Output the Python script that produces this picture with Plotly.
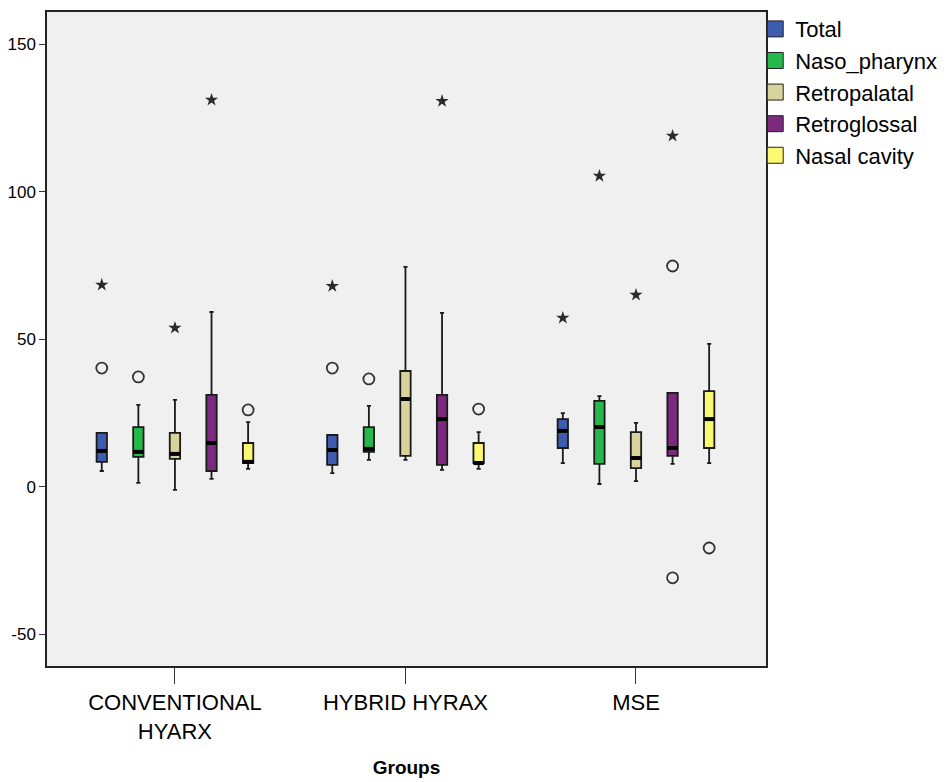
import plotly.graph_objects as go

groups = ["CONVENTIONAL<br>HYARX", "HYBRID HYRAX", "MSE"]
series = ["Total", "Naso_pharynx", "Retropalatal", "Retroglossal", "Nasal cavity"]
colors = ["#3d5cb0", "#27b84b", "#d8d29b", "#7b2a7e", "#fbf871"]
y_ticks = [-50, 0, 50, 100, 150]
y_tick_text = ["-50", "0", "50", "100", "150"]

# per series, per group
lower = {
    "Total": [5.4, 4.7, 8.1],
    "Naso_pharynx": [1.4, 9.2, 1.0],
    "Retropalatal": [-1.0, 9.2, 2.0],
    "Retroglossal": [2.7, 5.8, 7.8],
    "Nasal cavity": [6.1, 6.1, 8.1],
}
q1 = {
    "Total": [8.5, 7.5, 13.2],
    "Naso_pharynx": [10.2, 11.9, 7.8],
    "Retropalatal": [9.5, 10.5, 6.4],
    "Retroglossal": [5.4, 7.5, 10.5],
    "Nasal cavity": [8.1, 8.1, 13.2],
}
median = {
    "Total": [12.2, 12.5, 19.0],
    "Naso_pharynx": [11.9, 12.9, 20.3],
    "Retropalatal": [11.2, 29.8, 9.8],
    "Retroglossal": [14.9, 23.0, 13.2],
    "Nasal cavity": [8.5, 8.1, 23.0],
}
q3 = {
    "Total": [18.3, 17.6, 23.0],
    "Naso_pharynx": [20.3, 20.3, 29.2],
    "Retropalatal": [18.3, 39.3, 18.6],
    "Retroglossal": [31.2, 31.2, 31.9],
    "Nasal cavity": [14.9, 14.9, 32.5],
}
upper = {
    "Total": [18.3, 17.6, 25.0],
    "Naso_pharynx": [27.8, 27.5, 30.8],
    "Retropalatal": [29.5, 74.6, 21.7],
    "Retroglossal": [59.3, 59.0, 31.9],
    "Nasal cavity": [22.0, 18.6, 48.5],
}
outliers = {
    "Total": [[40.3], [40.3], []],
    "Naso_pharynx": [[37.3], [36.6], []],
    "Retropalatal": [[], [], []],
    "Retroglossal": [[], [], [74.9, -30.8]],
    "Nasal cavity": [[26.1], [26.4], [-20.7]],
}
extremes = {
    "Total": [[68.5], [68.1], [57.3]],
    "Naso_pharynx": [[], [], [105.4]],
    "Retropalatal": [[53.9], [], [65.1]],
    "Retroglossal": [[131.2], [130.8], [119.0]],
    "Nasal cavity": [[], [], []],
}

step = 0.1587
bw = 0.045

fig = go.Figure()
for k, s in enumerate(series):
    xs = [g + (k - 2) * step for g in range(len(groups))]
    fig.add_trace(go.Box(
        x=xs, q1=q1[s], median=median[s], q3=q3[s],
        lowerfence=lower[s], upperfence=upper[s],
        width=bw, whiskerwidth=0.4,
        fillcolor=colors[k], line=dict(color="#1a1a1a", width=1.8),
        boxpoints=False, showlegend=False, name=s, hoverinfo="skip",
    ))
    # thick median lines
    mx, my = [], []
    for i, x in enumerate(xs):
        mx += [x - bw / 2, x + bw / 2, None]
        my += [median[s][i], median[s][i], None]
    fig.add_trace(go.Scatter(x=mx, y=my, mode="lines",
                             line=dict(color="black", width=4),
                             showlegend=False, hoverinfo="skip"))
    ox, oy, ex, ey = [], [], [], []
    for i, x in enumerate(xs):
        for v in outliers[s][i]:
            ox.append(x); oy.append(v)
        for v in extremes[s][i]:
            ex.append(x); ey.append(v)
    fig.add_trace(go.Scatter(x=ox, y=oy, mode="markers", showlegend=False,
                             marker=dict(symbol="circle-open", size=11,
                                         color="#333333", line=dict(width=1.8))))
    fig.add_trace(go.Scatter(x=ex, y=ey, mode="markers", showlegend=False,
                             marker=dict(symbol="star", size=10,
                                         color="#2a2a2a", line=dict(width=0))))
    # legend entry
    fig.add_trace(go.Scatter(x=[None], y=[None], mode="markers", name=s,
                             marker=dict(symbol="square", size=16, color=colors[k],
                                         line=dict(color="#222222", width=1))))

fig.update_layout(
    width=948, height=782,
    margin=dict(l=47, r=182, t=12, b=116, autoexpand=False),
    paper_bgcolor="white", plot_bgcolor="#f0f0f0",
    font=dict(family="Liberation Sans, Arial, sans-serif", color="black"),
    legend=dict(x=0.985, y=1.006, xanchor="left", yanchor="top",
                bgcolor="rgba(0,0,0,0)", font=dict(size=22),
                tracegroupgap=0, itemwidth=30),
    xaxis=dict(
        range=[-0.555, 2.564], tickmode="array", automargin=False,
        tickvals=list(range(len(groups))), ticktext=groups,
        ticks="outside", ticklen=16, tickwidth=1.2, tickcolor="#333",
        showline=True, linecolor="#222", linewidth=1.5, mirror=True,
        showgrid=False, zeroline=False,
        tickfont=dict(size=22),
        title=dict(text="<b>Groups</b>", font=dict(size=19), standoff=18),
    ),
    yaxis=dict(
        range=[-60.7, 161], tickmode="array", automargin=False,
        tickvals=y_ticks, ticktext=y_tick_text,
        ticks="outside", ticklen=6, tickwidth=1.2, tickcolor="#333",
        showline=True, linecolor="#222", linewidth=1.5, mirror=True,
        showgrid=False, zeroline=False,
        tickfont=dict(size=17),
    ),
)

fig.write_html("out.html")
